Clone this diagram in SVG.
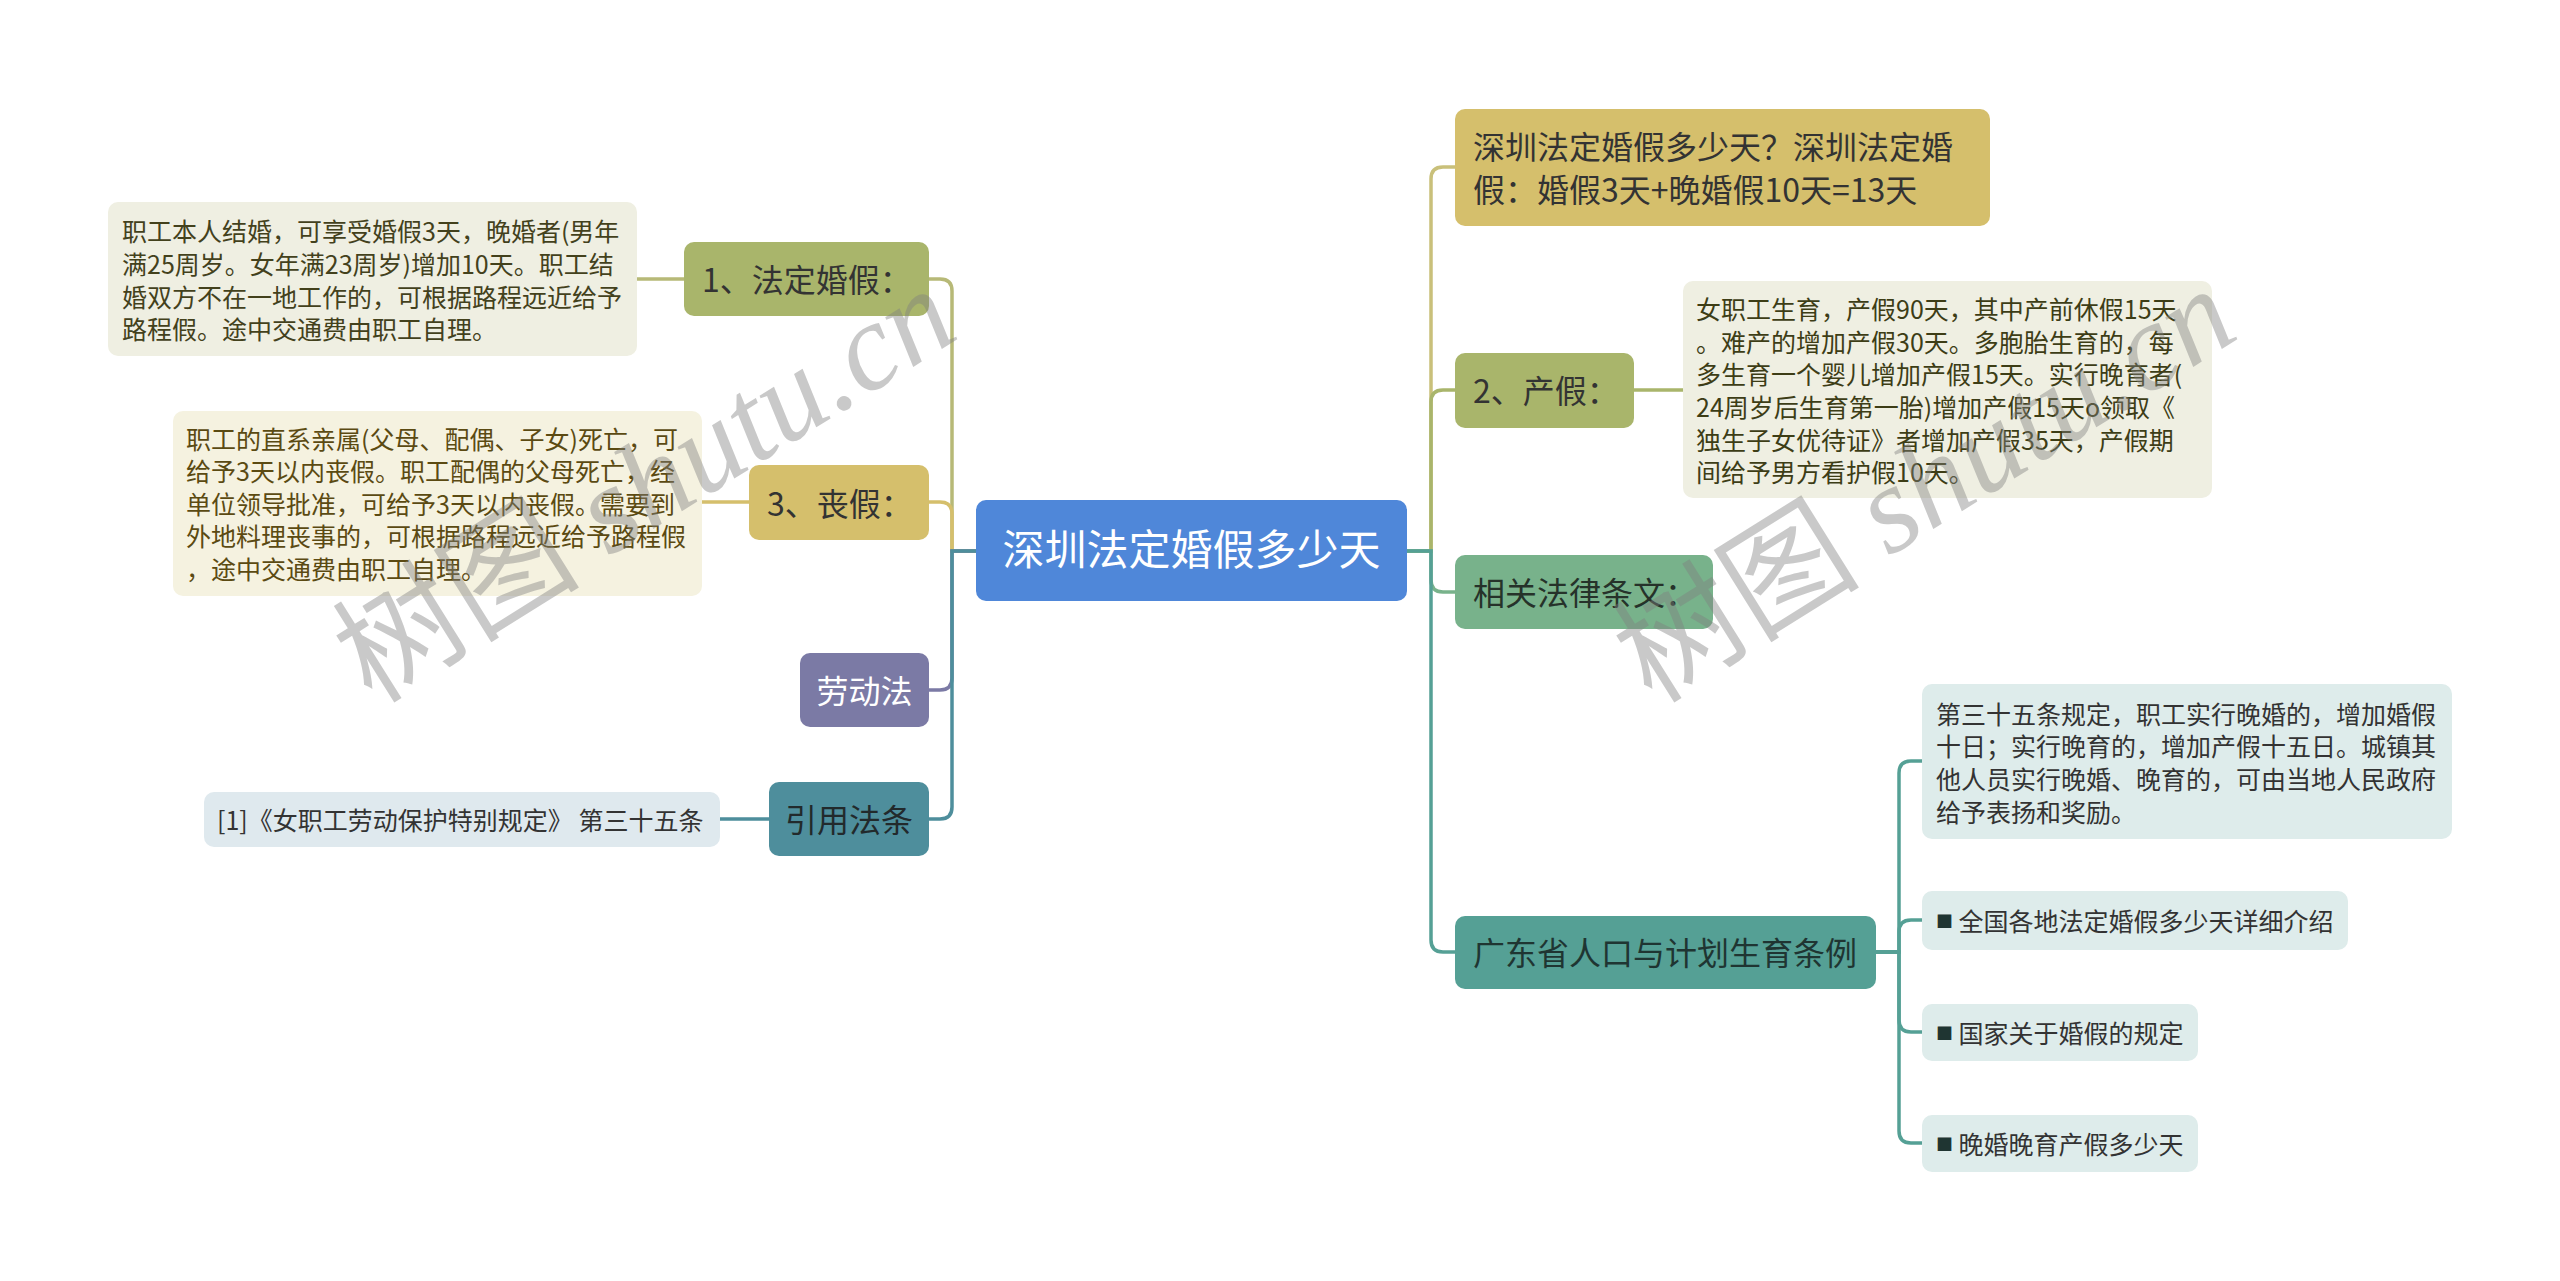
<svg xmlns="http://www.w3.org/2000/svg" width="2560" height="1281" viewBox="0 0 2560 1281">
<style>
text{font-family:"Noto Sans CJK SC","Liberation Sans",sans-serif;dominant-baseline:central}
.main{font-size:32px;fill:#333333}
.leaf{font-size:25px;fill:#333333}
.con{fill:none;stroke-width:3.5;stroke-linecap:round}
.wm{font-size:124px;fill:#808080;opacity:0.42}
</style>
<rect width="2560" height="1281" fill="#ffffff"/>
<g id="connectors">
<path class="con" stroke="#b7b977" d="M976 551 H952 V291 Q952 279 940 279 H929"/>
<path class="con" stroke="#d5bf6c" d="M976 551 H952 V514 Q952 502 940 502 H929"/>
<path class="con" stroke="#7b7aa5" d="M976 551 H952 V678 Q952 690 940 690 H929"/>
<path class="con" stroke="#4e8e9c" d="M976 551 H952 V807 Q952 819 940 819 H929"/>
<path class="con" stroke="#b7b977" d="M637 279 H684"/>
<path class="con" stroke="#d5bf6c" d="M702 502 H749"/>
<path class="con" stroke="#4e8e9c" d="M720 819 H769"/>
<path class="con" stroke="#c9c07a" d="M1407 551 H1431 V179 Q1431 167 1443 167 H1455"/>
<path class="con" stroke="#a9b56b" d="M1407 551 H1431 V402 Q1431 390 1443 390 H1455"/>
<path class="con" stroke="#a9b56b" d="M1634 390 H1683"/>
<path class="con" stroke="#78b28b" d="M1407 551 H1431 V580 Q1431 592 1443 592 H1455"/>
<path class="con" stroke="#55a095" d="M1407 551 H1431 V940 Q1431 952 1443 952 H1455"/>
<path class="con" stroke="#55a095" d="M1876 952 H1899 V773 Q1899 761 1911 761 H1922"/>
<path class="con" stroke="#55a095" d="M1876 952 H1899 V932 Q1899 920 1911 920 H1922"/>
<path class="con" stroke="#55a095" d="M1876 952 H1899 V1020 Q1899 1032 1911 1032 H1922"/>
<path class="con" stroke="#55a095" d="M1876 952 H1899 V1131 Q1899 1143 1911 1143 H1922"/>
</g>
<g id="center">
<rect x="976" y="500" width="431" height="101" rx="10" fill="#4f87d9"/>
<text x="1191.5" y="546" font-size="42" fill="#ffffff" text-anchor="middle">深圳法定婚假多少天</text>
</g>
<g id="n1">
<rect x="684" y="242" width="245" height="74" rx="10" fill="#a9b56b"/>
<text class="main" x="702" y="278">1、法定婚假：</text>
</g>
<g id="n1-text">
<rect x="108" y="202" width="529" height="154" rx="10" fill="#efefe2"/>
<text class="leaf" style="fill:#43411c">
<tspan x="122" y="230">职工本人结婚，可享受婚假3天，晚婚者(男年</tspan>
<tspan x="122" y="263">满25周岁。女年满23周岁)增加10天。职工结</tspan>
<tspan x="122" y="296">婚双方不在一地工作的，可根据路程远近给予</tspan>
<tspan x="122" y="328">路程假。途中交通费由职工自理。</tspan>
</text>
</g>
<g id="n3">
<rect x="749" y="465" width="180" height="75" rx="10" fill="#d5bf6c"/>
<text class="main" x="767" y="502">3、丧假：</text>
</g>
<g id="n3-text">
<rect x="173" y="411" width="529" height="185" rx="10" fill="#f5f2e0"/>
<text class="leaf" style="fill:#5b4a12">
<tspan x="186" y="438">职工的直系亲属(父母、配偶、子女)死亡，可</tspan>
<tspan x="186" y="470">给予3天以内丧假。职工配偶的父母死亡，经</tspan>
<tspan x="186" y="503">单位领导批准，可给予3天以内丧假。需要到</tspan>
<tspan x="186" y="535">外地料理丧事的，可根据路程远近给予路程假</tspan>
<tspan x="186" y="568">，途中交通费由职工自理。</tspan>
</text>
</g>
<g id="labor-law">
<rect x="800" y="653" width="129" height="74" rx="10" fill="#7b7aa5"/>
<text class="main" x="864.5" y="689" text-anchor="middle" style="fill:#ffffff">劳动法</text>
</g>
<g id="cite">
<rect x="769" y="782" width="160" height="74" rx="10" fill="#4e8e9c"/>
<text class="main" x="849" y="818" text-anchor="middle" style="fill:#222a2c">引用法条</text>
</g>
<g id="cite-text">
<rect x="204" y="792" width="516" height="55" rx="10" fill="#dfe9ee"/>
<text class="leaf" x="217" y="819">[1]《女职工劳动保护特别规定》 第三十五条</text>
</g>
<g id="r1">
<rect x="1455" y="109" width="535" height="117" rx="10" fill="#d5bf6c"/>
<text class="main">
<tspan x="1473" y="144.5">深圳法定婚假多少天？深圳法定婚</tspan>
<tspan x="1473" y="187.5">假：婚假3天+晚婚假10天=13天</tspan>
</text>
</g>
<g id="r2">
<rect x="1455" y="353" width="179" height="75" rx="10" fill="#a9b56b"/>
<text class="main" x="1473" y="389">2、产假：</text>
</g>
<g id="r2-text">
<rect x="1683" y="281" width="529" height="217" rx="10" fill="#efefe2"/>
<text class="leaf" style="fill:#3d3d16">
<tspan x="1696" y="308">女职工生育，产假90天，其中产前休假15天</tspan>
<tspan x="1696" y="340.5">。难产的增加产假30天。多胞胎生育的，每</tspan>
<tspan x="1696" y="373">多生育一个婴儿增加产假15天。实行晚育者(</tspan>
<tspan x="1696" y="406">24周岁后生育第一胎)增加产假15天o领取《</tspan>
<tspan x="1696" y="438.5">独生子女优待证》者增加产假35天，产假期</tspan>
<tspan x="1696" y="471">间给予男方看护假10天。</tspan>
</text>
</g>
<g id="r3">
<rect x="1455" y="555" width="258" height="74" rx="10" fill="#78b28b"/>
<text class="main" x="1473" y="591" style="fill:#26322a">相关法律条文：</text>
</g>
<g id="r4">
<rect x="1455" y="916" width="421" height="73" rx="10" fill="#55a095"/>
<text class="main" x="1473" y="951" style="fill:#1f3532">广东省人口与计划生育条例</text>
</g>
<g id="r4-a">
<rect x="1922" y="684" width="530" height="155" rx="10" fill="#deeceb"/>
<text class="leaf">
<tspan x="1936" y="712.5">第三十五条规定，职工实行晚婚的，增加婚假</tspan>
<tspan x="1936" y="745">十日；实行晚育的，增加产假十五日。城镇其</tspan>
<tspan x="1936" y="778">他人员实行晚婚、晚育的，可由当地人民政府</tspan>
<tspan x="1936" y="810.5">给予表扬和奖励。</tspan>
</text>
</g>
<g id="r4-b">
<rect x="1922" y="891" width="426" height="59" rx="10" fill="#deeceb"/>
<text class="leaf" x="1936" y="920"><tspan font-size="17" fill="#1f3532">■</tspan> 全国各地法定婚假多少天详细介绍</text>
</g>
<g id="r4-c">
<rect x="1922" y="1004" width="276" height="57" rx="10" fill="#deeceb"/>
<text class="leaf" x="1936" y="1032"><tspan font-size="17" fill="#1f3532">■</tspan> 国家关于婚假的规定</text>
</g>
<g id="r4-d">
<rect x="1922" y="1115" width="276" height="57" rx="10" fill="#deeceb"/>
<text class="leaf" x="1936" y="1143"><tspan font-size="17" fill="#1f3532">■</tspan> 晚婚晚育产假多少天</text>
</g>
<g id="watermarks">
<text class="wm" transform="translate(372 705) rotate(-32)" style="dominant-baseline:auto"><tspan font-family="'Noto Sans CJK SC',serif">树图</tspan><tspan font-family="'Liberation Serif',serif" font-style="italic"> shutu.cn</tspan></text>
<text class="wm" transform="translate(1652 705) rotate(-32)" style="dominant-baseline:auto"><tspan font-family="'Noto Sans CJK SC',serif">树图</tspan><tspan font-family="'Liberation Serif',serif" font-style="italic"> shutu.cn</tspan></text>
</g>
</svg>
